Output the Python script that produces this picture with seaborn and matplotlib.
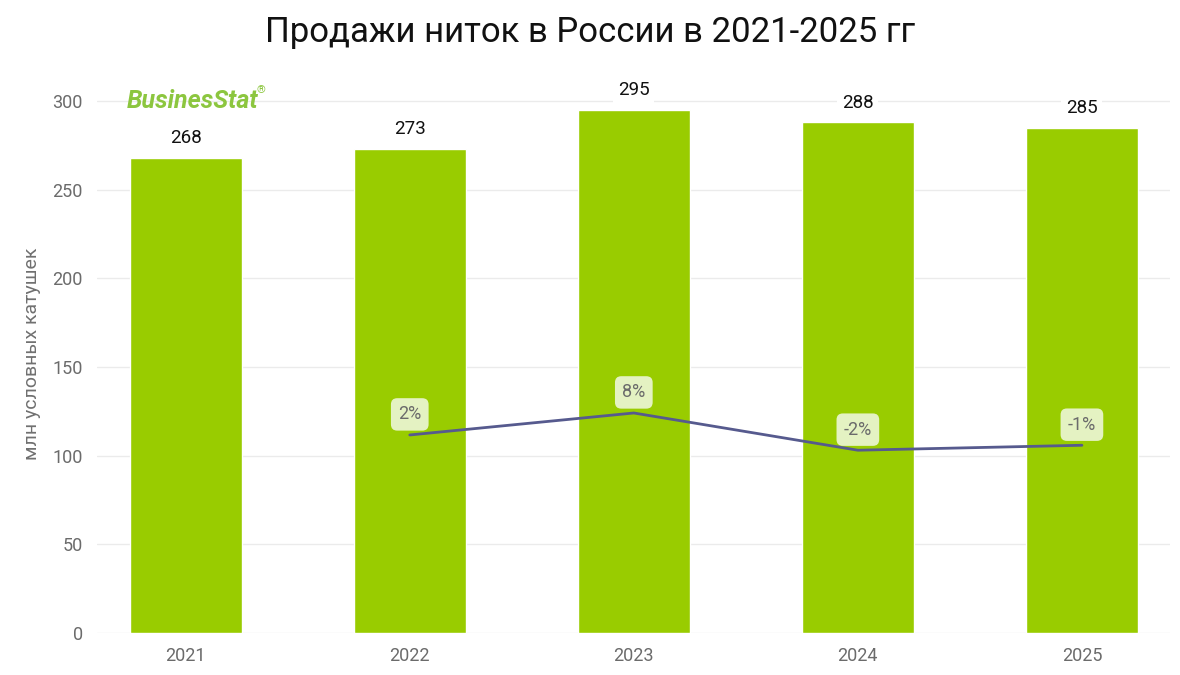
import seaborn as sb
import matplotlib.pyplot as plt
import pandas as pd

# data
years = ['2021', '2022', '2023', '2024', '2025']
sales = [268, 273, 295, 288, 285]
growth_years = ['2022', '2023', '2024', '2025']
growth = [1.9, 8.1, -2.4, -1.0]
growth_labels = ['2%', '8%', '-2%', '-1%']

df = pd.DataFrame({'year': years, 'sales': sales})

sb.set_style('white')
plt.rcParams['font.family'] = ['Roboto', 'DejaVu Sans']

fig = plt.figure(figsize=(11.8, 6.75), dpi=100)
ax = fig.add_axes([0.082, 0.0622, 0.9095, 0.8274])

sb.barplot(data=df, x='year', y='sales', color='#99CC00', width=0.5,
           saturation=1, ax=ax, zorder=2)
ax.set_xlim(-0.397, 4.393)
ax.set_ylim(0, 315)
ax.set_yticks([0, 50, 100, 150, 200, 250, 300])
ax.grid(axis='y', color='#ebebeb', linewidth=1, zorder=0)
ax.set_axisbelow(True)
for s in ax.spines.values():
    s.set_visible(False)
ax.tick_params(axis='both', length=0, labelsize=13, labelcolor='#6b6b6b', pad=10)
ax.set_xlabel('')
ax.set_ylabel('млн условных катушек', fontsize=14, color='#707070', labelpad=8)

# value labels on top of the bars
for i, v in enumerate(sales):
    ax.text(i, v + 6, str(v), ha='center', va='bottom', fontsize=13.5,
            color='#111111', zorder=5,
            bbox=dict(boxstyle='square,pad=0.25', fc='white', ec='none'))

# growth line on hidden secondary axis
ax2 = ax.twinx()
ax2.set_ylim(-53.95, 103.55)
gx = [years.index(y) for y in growth_years]
sb.lineplot(x=gx, y=growth, color='#565a8e', linewidth=2, ax=ax2, zorder=3)
ax2.set_xlim(ax.get_xlim())
ax2.set_yticks([])
ax2.set_ylabel('')
for s in ax2.spines.values():
    s.set_visible(False)
for x, g, lab in zip(gx, growth, growth_labels):
    ax2.text(x, g + 5.8, lab, ha='center', va='center', fontsize=13,
             color='#6b6b6b', zorder=6,
             bbox=dict(boxstyle='round,pad=0.4,rounding_size=0.35',
                       fc='#e4f2c2', ec='none'))

fig.text(0.5, 0.952, 'Продажи ниток в России в 2021-2025 гг', ha='center',
         va='center', fontsize=25, color='#111111')

# logo
fig.text(0.107, 0.85, 'BusinesStat', fontsize=18, fontweight='bold',
         fontstyle='italic', color='#8cc63f', va='center', ha='left')
fig.text(0.217, 0.866, '®', fontsize=8, color='#8cc63f', va='center')

fig.savefig('out.png', dpi=100)
